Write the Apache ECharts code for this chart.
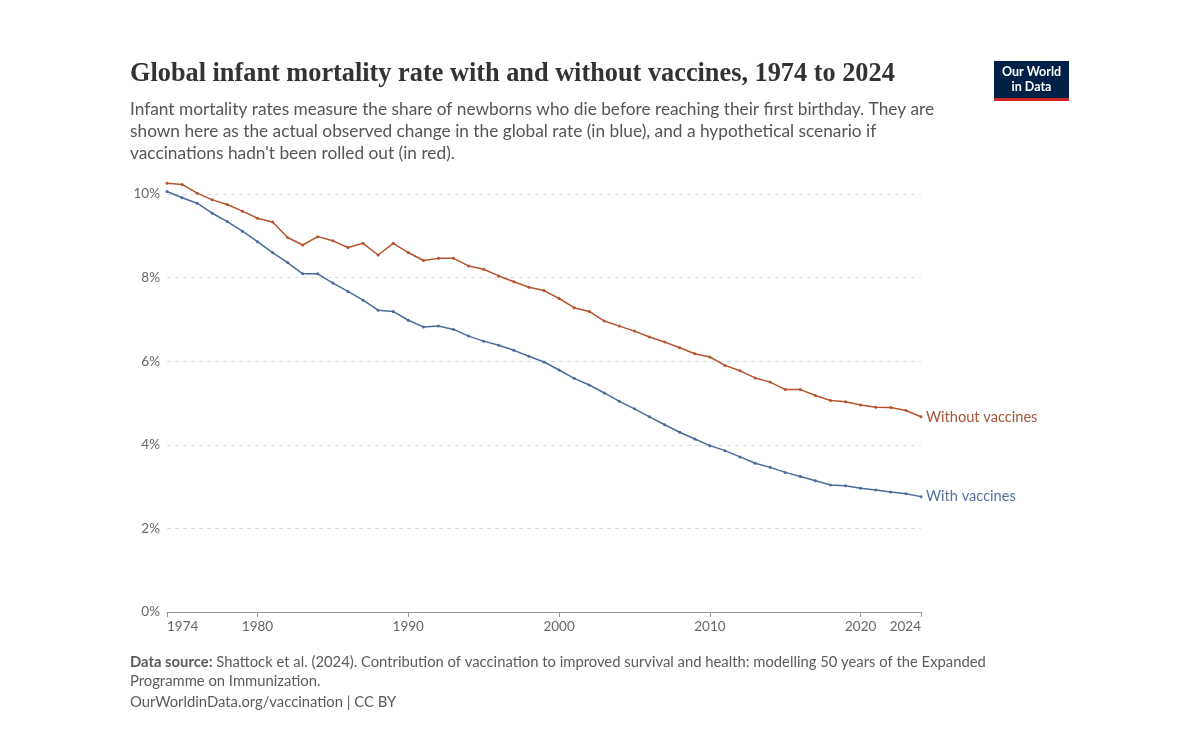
<!DOCTYPE html>
<html>
<head>
<meta charset="utf-8">
<script src="https://cdn.jsdelivr.net/npm/echarts@6/dist/echarts.min.js"></script>
<style>html,body{margin:0;padding:0;background:#fff}#c{width:1200px;height:752px}</style>
</head>
<body>
<div id="c"></div>
<script>
const years = [];
for (let y = 1974; y <= 2024; y++) years.push(String(y));
const xTickLabels = ['1974','1980','1990','2000','2010','2020','2024'];
const yTicks = [0, 2, 4, 6, 8, 10];

const withoutVaccines = [10.26,10.23,10.02,9.86,9.75,9.59,9.42,9.33,8.96,8.78,8.98,8.88,8.72,8.82,8.54,8.82,8.60,8.41,8.46,8.46,8.28,8.20,8.04,7.90,7.77,7.69,7.50,7.28,7.19,6.96,6.84,6.72,6.58,6.46,6.32,6.18,6.10,5.90,5.77,5.60,5.50,5.32,5.32,5.18,5.06,5.03,4.95,4.90,4.89,4.82,4.67];
const withVaccines = [10.06,9.91,9.78,9.54,9.34,9.11,8.86,8.60,8.36,8.09,8.09,7.87,7.67,7.46,7.22,7.19,6.98,6.82,6.84,6.76,6.60,6.48,6.38,6.26,6.12,5.98,5.79,5.59,5.43,5.24,5.04,4.86,4.67,4.48,4.30,4.14,3.98,3.86,3.71,3.56,3.46,3.34,3.24,3.14,3.04,3.02,2.96,2.92,2.87,2.83,2.76];

const RED = '#B5532E', BLUE = '#4C6A9C';
const chart = echarts.init(document.getElementById('c'));
const showTick = (i, v) => xTickLabels.indexOf(v) >= 0;

chart.setOption({
  backgroundColor: '#fff',
  animation: false,
  grid: { left: 167, right: 279, top: 194, bottom: 140, containLabel: false },
  xAxis: {
    type: 'category', data: years, boundaryGap: false,
    axisLine: { show: true, lineStyle: { color: '#999', width: 1 } },
    axisTick: { show: true, interval: showTick, length: 5, lineStyle: { color: '#999' } },
    axisLabel: { interval: showTick, color: '#666', fontFamily: 'Lato', fontSize: 13.5, margin: 8,
      alignMinLabel: 'left', alignMaxLabel: 'right' },
    splitLine: { show: false }
  },
  yAxis: {
    type: 'value', min: 0, max: 10, interval: 2,
    axisLine: { show: false }, axisTick: { show: false },
    axisLabel: { formatter: v => v + '%', color: '#666', fontFamily: 'Lato', fontSize: 13.5, margin: 7, verticalAlign: 'middle' },
    splitLine: { lineStyle: { color: '#ddd', type: [4, 4], width: 1 } }
  },
  series: [
    { name: 'Without vaccines', type: 'line', data: withoutVaccines, clip: false,
      symbol: 'circle', symbolSize: 3, showSymbol: true,
      lineStyle: { color: RED, width: 1.5 }, itemStyle: { color: RED },
      endLabel: { show: true, formatter: '{a}', color: '#A4553E', fontFamily: 'Lato', fontSize: 14.6, distance: 5 } },
    { name: 'With vaccines', type: 'line', data: withVaccines, clip: false,
      symbol: 'circle', symbolSize: 3, showSymbol: true,
      lineStyle: { color: BLUE, width: 1.5 }, itemStyle: { color: BLUE },
      endLabel: { show: true, formatter: '{a}', color: '#56709E', fontFamily: 'Lato', fontSize: 14.6, distance: 5 } }
  ],
  graphic: [
    { type: 'text', left: 130, top: 61, style: { text: 'Global infant mortality rate with and without vaccines, 1974 to 2024',
      font: 'bold 26.3px "Liberation Serif", serif', fill: '#333' } },
    { type: 'text', left: 130, top: 98, style: { text: "Infant mortality rates measure the share of newborns who die before reaching their first birthday. They are\nshown here as the actual observed change in the global rate (in blue), and a hypothetical scenario if\nvaccinations hadn't been rolled out (in red).",
      font: '17.3px Lato, sans-serif', fill: '#555', lineHeight: 22 } },
    { type: 'rect', shape: { x: 994, y: 61, width: 75, height: 40 }, style: { fill: '#002147' } },
    { type: 'rect', shape: { x: 994, y: 98, width: 75, height: 3 }, style: { fill: '#CE261E' } },
    { type: 'text', x: 1031.5, y: 72, style: { text: 'Our World', font: 'bold 12.5px Lato, sans-serif', fill: '#fff', align: 'center', verticalAlign: 'middle' } },
    { type: 'text', x: 1031.5, y: 87, style: { text: 'in Data', font: 'bold 12.5px Lato, sans-serif', fill: '#fff', align: 'center', verticalAlign: 'middle' } },
    { type: 'text', left: 130, top: 653, style: {
      text: '{b|Data source:} Shattock et al. (2024). Contribution of vaccination to improved survival and health: modelling 50 years of the Expanded\nProgramme on Immunization.',
      font: '14.8px Lato, sans-serif', fill: '#5b5b5b', lineHeight: 19,
      rich: { b: { fontWeight: 'bold', fontFamily: 'Lato', fontSize: 14.8, fill: '#5b5b5b' } } } },
    { type: 'text', left: 130, top: 695, style: { text: 'OurWorldinData.org/vaccination | CC BY', font: '14.8px Lato, sans-serif', fill: '#5b5b5b' } }
  ]
});
</script>
</body>
</html>
